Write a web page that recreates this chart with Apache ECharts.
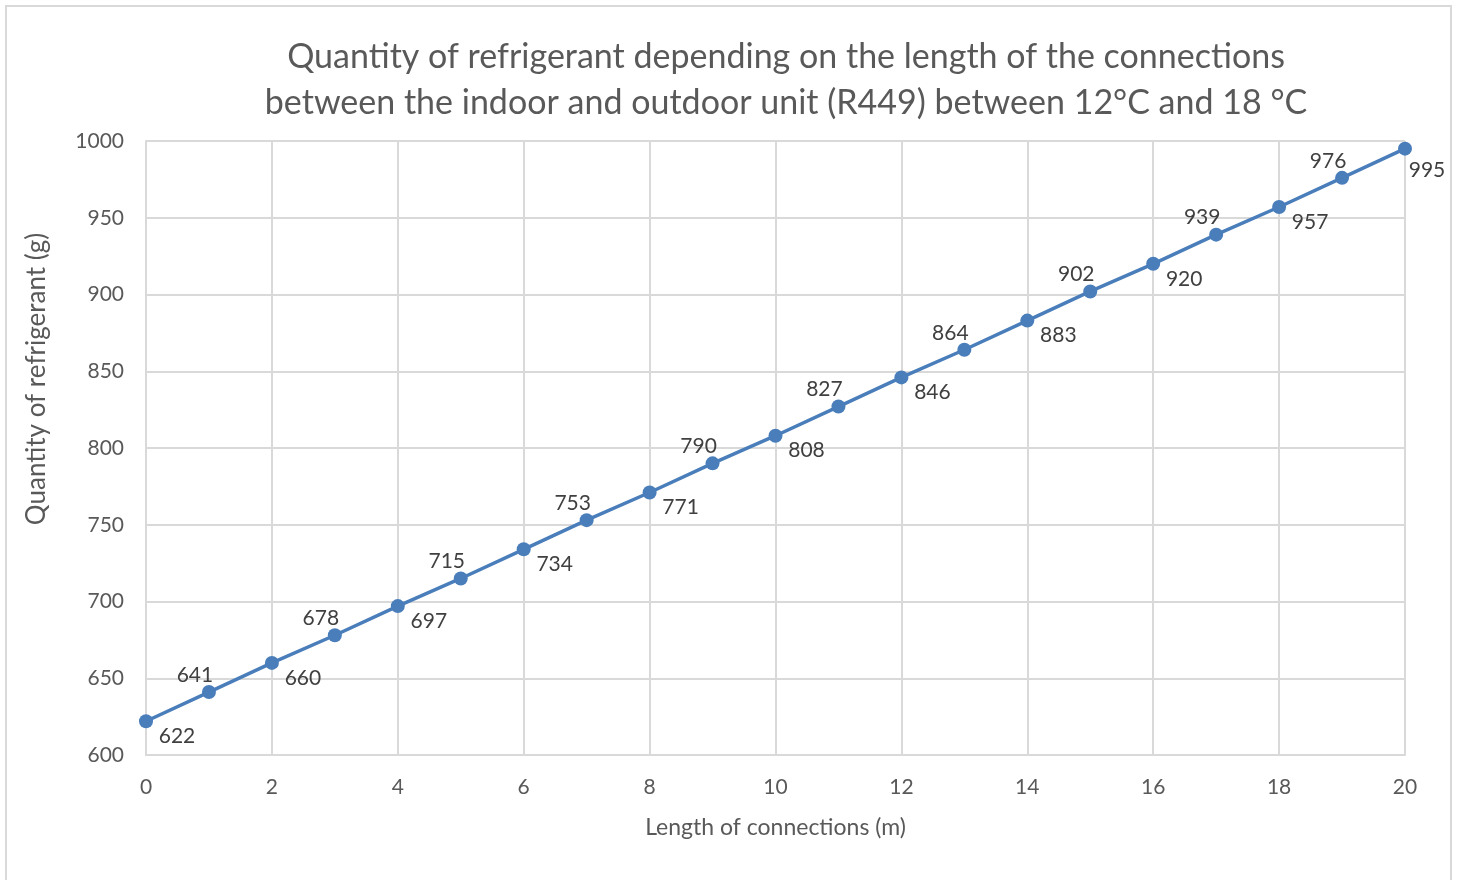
<!DOCTYPE html>
<html>
<head>
    <meta charset="utf-8">
    <title>Quantity of refrigerant</title>
    <script src="https://cdn.jsdelivr.net/npm/echarts@6/dist/echarts.min.js"></script>
    <style>
        html, body { margin: 0; padding: 0; background: #fff; }
        #frame { position: absolute; left: 5px; top: 5px; width: 1447px; height: 880px; border: 2px solid #d9d9d9; box-sizing: border-box; }
        #container { position: absolute; left: 0; top: 0; width: 1459px; height: 880px; }
    </style>
</head>
<body>
    <div id="frame"></div>
    <div id="container"></div>
    <script type="text/javascript">
        // data
        var lengths = [0, 1, 2, 3, 4, 5, 6, 7, 8, 9, 10, 11, 12, 13, 14, 15, 16, 17, 18, 19, 20];
        var quantities = [622, 641, 660, 678, 697, 715, 734, 753, 771, 790, 808, 827, 846, 864, 883, 902, 920, 939, 957, 976, 995];

        var font = 'Lato, "Open Sans", sans-serif';
        var textColor = '#595959';

        // labels alternate below-right / above-left like the original
        var points = lengths.map(function (x, i) {
            var below = i % 2 === 0;
            var off = below ? [31, 15] : [-14, -17];
            if (i === lengths.length - 1) off = [22, 22];
            return {
                value: [x, quantities[i]],
                label: { position: 'inside', offset: off }
            };
        });

        var myChart = echarts.init(document.getElementById('container'));
        myChart.setOption({
            animation: false,
            title: {
                text: 'Quantity of refrigerant depending on the length of the connections\nbetween the indoor and outdoor unit (R449) between 12°C and 18 °C',
                left: 781,
                textAlign: 'center',
                top: 29,
                textStyle: {
                    fontFamily: font,
                    fontSize: 34,
                    fontWeight: 'normal',
                    color: textColor,
                    lineHeight: 46
                }
            },
            grid: { left: 146, right: 54, top: 141, bottom: 125 },
            xAxis: {
                type: 'value',
                min: 0,
                max: 20,
                interval: 2,
                name: 'Length of connections (m)',
                nameLocation: 'middle',
                nameGap: 61,
                nameTextStyle: { fontFamily: font, fontSize: 23, color: textColor },
                axisLine: { lineStyle: { color: '#d9d9d9', width: 2 } },
                axisTick: { show: false },
                axisLabel: { fontFamily: font, fontSize: 21, color: textColor, margin: 22 },
                splitLine: { show: true, lineStyle: { color: '#d9d9d9', width: 2 } }
            },
            yAxis: {
                type: 'value',
                min: 600,
                max: 1000,
                interval: 50,
                name: 'Quantity of refrigerant (g)',
                nameLocation: 'middle',
                nameGap: 96,
                nameTextStyle: { fontFamily: font, fontSize: 26, color: textColor, padding: [0, 0, 0, 138] },
                axisLine: { show: true, lineStyle: { color: '#d9d9d9', width: 2 } },
                axisTick: { show: false },
                axisLabel: {
                    fontFamily: font, fontSize: 21, color: textColor, margin: 22,
                    formatter: function (v) { return String(v); }
                },
                splitLine: { show: true, lineStyle: { color: '#d9d9d9', width: 2 } }
            },
            series: [{
                type: 'line',
                data: points,
                symbol: 'circle',
                symbolSize: 14,
                itemStyle: { color: '#4a7ebb' },
                lineStyle: { color: '#4a7ebb', width: 3.5 },
                label: {
                    show: true,
                    fontFamily: font,
                    fontSize: 21,
                    color: '#404040',
                    formatter: function (p) { return p.value[1]; }
                }
            }]
        });
    </script>
</body>
</html>
